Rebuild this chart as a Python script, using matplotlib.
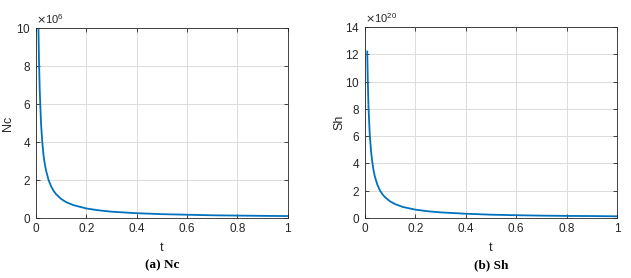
import matplotlib
matplotlib.use("Agg")
import matplotlib.pyplot as plt
from matplotlib.ticker import ScalarFormatter

t = [0.01, 0.012, 0.015, 0.02, 0.025, 0.03, 0.035, 0.04, 0.05, 0.06, 0.07, 0.08, 0.1,
     0.12, 0.15, 0.2, 0.25, 0.3, 0.4, 0.5, 0.6, 0.7, 0.8, 0.9, 1.0]
nc = [9.9e6, 8.3e6, 6.7e6, 5.0e6, 4.0e6, 3.3e6, 2.85e6, 2.5e6, 2.0e6, 1.67e6, 1.43e6, 1.25e6, 1.0e6,
      0.83e6, 0.67e6, 0.5e6, 0.4e6, 0.33e6, 0.25e6, 0.2e6, 0.17e6, 0.14e6, 0.125e6, 0.11e6, 0.1e6]
sh = [12.2e20, 10.2e20, 8.1e20, 6.1e20, 4.9e20, 4.1e20, 3.5e20, 3.05e20, 2.44e20, 2.03e20, 1.74e20,
      1.53e20, 1.22e20, 1.02e20, 0.81e20, 0.61e20, 0.49e20, 0.41e20, 0.31e20, 0.24e20, 0.2e20,
      0.17e20, 0.15e20, 0.14e20, 0.12e20]

xticks = [0, 0.2, 0.4, 0.6, 0.8, 1]
xticklabels = ["0", "0.2", "0.4", "0.6", "0.8", "1"]
nc_yticks = [0, 2e6, 4e6, 6e6, 8e6, 10e6]
sh_yticks = [0, 2e20, 4e20, 6e20, 8e20, 10e20, 12e20, 14e20]

plt.rcParams['font.family'] = ['Liberation Sans', 'DejaVu Sans']
fig = plt.figure(figsize=(6.31, 2.78), dpi=100)

def make(ax, y, yticks, ylim, exp, ylabel, caption, lpad):
    ax.plot(t, y, color='#0072BD', lw=1.3)
    ax.set_xlim(0, 1)
    ax.set_ylim(*ylim)
    ax.set_xticks(xticks)
    ax.set_xticklabels(xticklabels)
    ax.set_yticks(yticks)
    fmt = ScalarFormatter(useMathText=True)
    ax.yaxis.set_major_formatter(fmt)
    ax.ticklabel_format(axis='y', style='sci', scilimits=(exp, exp), useMathText=True)
    ax.grid(True, color='#dcdcdc', lw=0.7)
    ax.set_axisbelow(True)
    ax.tick_params(direction='in', top=True, right=True, labelsize=8.5, colors='#262626',
                   length=3, width=0.6)
    for s in ax.spines.values():
        s.set_color('#262626')
        s.set_linewidth(0.6)
    ax.yaxis.get_offset_text().set_fontsize(8)
    ax.yaxis.get_offset_text().set_color('#262626')
    ax.set_xlabel('t', fontsize=9, color='#262626', labelpad=5)
    ax.set_ylabel(ylabel, fontsize=9, color='#262626', labelpad=lpad)
    pos = ax.get_position()
    fig.text((pos.x0 + pos.x1) / 2, 0.045, caption, ha='center', va='center',
             fontsize=9.5, fontweight='bold', family='Liberation Serif')

ax1 = fig.add_axes([0.057, 0.216, 0.399, 0.683])
make(ax1, nc, nc_yticks, (0, 10e6), 6, 'Nc', '(a) Nc', 1.5)
ax2 = fig.add_axes([0.578, 0.216, 0.400, 0.687])
make(ax2, sh, sh_yticks, (0, 14e20), 20, 'Sh', '(b) Sh', 0)

fig.savefig('out.png', dpi=100)
